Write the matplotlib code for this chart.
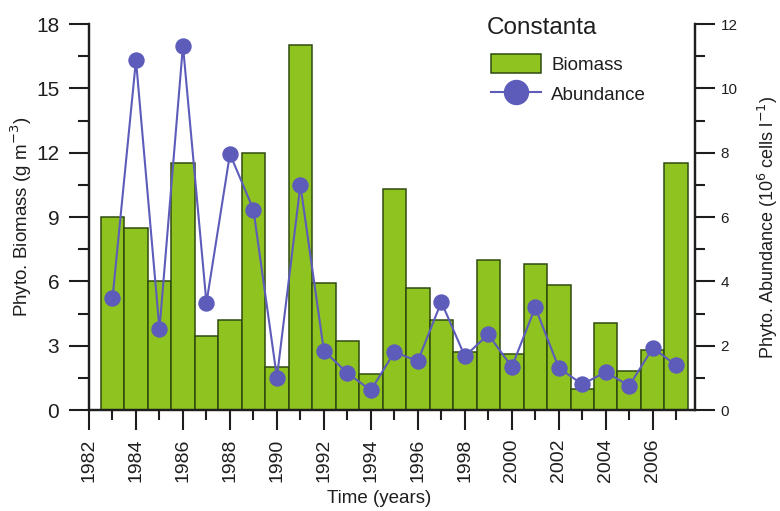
import matplotlib
matplotlib.use("Agg")
import matplotlib.pyplot as plt
from matplotlib.ticker import MultipleLocator

plt.rcParams["font.family"] = ["Liberation Sans", "DejaVu Sans"]

# Phytoplankton time series, Constanta station
years = [1983, 1984, 1985, 1986, 1987, 1988, 1989, 1990, 1991, 1992, 1993,
         1994, 1995, 1996, 1997, 1998, 1999, 2000, 2001, 2002, 2003, 2004,
         2005, 2006, 2007]
biomass = [9.0, 8.5, 6.0, 11.5, 3.45, 4.2, 12.0, 2.0, 17.0, 5.9, 3.2,
           1.7, 10.3, 5.7, 4.2, 2.7, 7.0, 2.6, 6.8, 5.85, 1.0, 4.05,
           1.8, 2.8, 11.5]
abundance = [3.47, 10.88, 2.51, 11.33, 3.33, 7.96, 6.23, 1.01, 6.99, 1.84,
             1.15, 0.61, 1.80, 1.52, 3.36, 1.67, 2.35, 1.34, 3.19, 1.31,
             0.80, 1.18, 0.75, 1.93, 1.39]
year_ticks = list(range(1982, 2007, 2))

BAR_FILL = "#8fc31f"
BAR_EDGE = "#2f4a10"
DOT = "#5d5cba"
INK = "#1e1e1e"

W, H = 780, 511
fig = plt.figure(figsize=(W / 100, H / 100), dpi=100)
ax = fig.add_axes([89 / W, 1 - 410 / H, (695 - 89) / W, (410 - 24) / H])
ax2 = ax.twinx()

bars = ax.bar(years, biomass, width=1.0, color=BAR_FILL, edgecolor=BAR_EDGE,
              linewidth=1.1, label="Biomass", zorder=2)
line, = ax2.plot(years, abundance, color=DOT, linewidth=1.5, marker="o",
                 markersize=10.8, markerfacecolor=DOT, markeredgecolor=DOT,
                 label="Abundance", zorder=3)

ax.set_xlim(1982, 2007.8)
ax.set_ylim(0, 18)
ax2.set_ylim(0, 12)

for a in (ax, ax2):
    a.spines["top"].set_visible(False)
    for s in a.spines.values():
        s.set_linewidth(1.6)
        s.set_color(INK)

ax.set_xticks(year_ticks)
ax.set_xticklabels([str(y) for y in year_ticks], rotation=90)
ax.xaxis.set_minor_locator(MultipleLocator(1))
ax.yaxis.set_major_locator(MultipleLocator(3))
ax.yaxis.set_minor_locator(MultipleLocator(1.5))
ax2.yaxis.set_major_locator(MultipleLocator(2))
ax2.yaxis.set_minor_locator(MultipleLocator(1))

ax.tick_params(axis="x", which="major", direction="out", length=14.5,
               width=1.5, labelsize=14, pad=6, colors=INK)
ax.tick_params(axis="x", which="minor", direction="out", length=7, width=1.5,
               colors=INK)
ax.tick_params(axis="y", which="major", direction="out", length=14.5,
               width=1.5, labelsize=15, pad=7, colors=INK)
ax.tick_params(axis="y", which="minor", direction="out", length=8, width=1.5,
               colors=INK)
ax2.tick_params(axis="y", which="major", direction="out", length=14.5,
                width=1.5, labelsize=11, pad=4, colors=INK)
ax2.tick_params(axis="y", which="minor", direction="out", length=7.5,
                width=1.5, colors=INK)

ax.set_ylabel("Phyto. Biomass (g m$^{-3}$)", fontsize=13.5, color=INK)
ax.yaxis.set_label_coords((34 - 89) / 606, 0.5)
ax2.set_ylabel("Phyto. Abundance (10$^{6}$ cells l$^{-1}$)", fontsize=13,
               color=INK, rotation=90)
ax2.yaxis.set_label_coords((756 - 89) / 606, 0.474)
ax.set_xlabel("Time (years)", fontsize=13.5, color=INK)
ax.xaxis.set_label_coords((379 - 89) / 606, (410 - 490) / 386)

fig.text(487 / W, 1 - 28 / H, "Constanta", fontsize=17.5, color=INK,
         ha="left", va="center")

leg = ax2.legend(handles=[bars, line], labels=["Biomass", "Abundance"],
                 fontsize=13.5, loc="upper left",
                 bbox_to_anchor=(491 / W, 1 - 54 / H),
                 bbox_transform=fig.transFigure, frameon=False,
                 borderpad=0, borderaxespad=0, handlelength=2.67,
                 handleheight=1.17, handletextpad=0.55, labelspacing=0.55,
                 markerscale=1.6)
for t in leg.get_texts():
    t.set_color(INK)

fig.savefig("out.png", dpi=100)
